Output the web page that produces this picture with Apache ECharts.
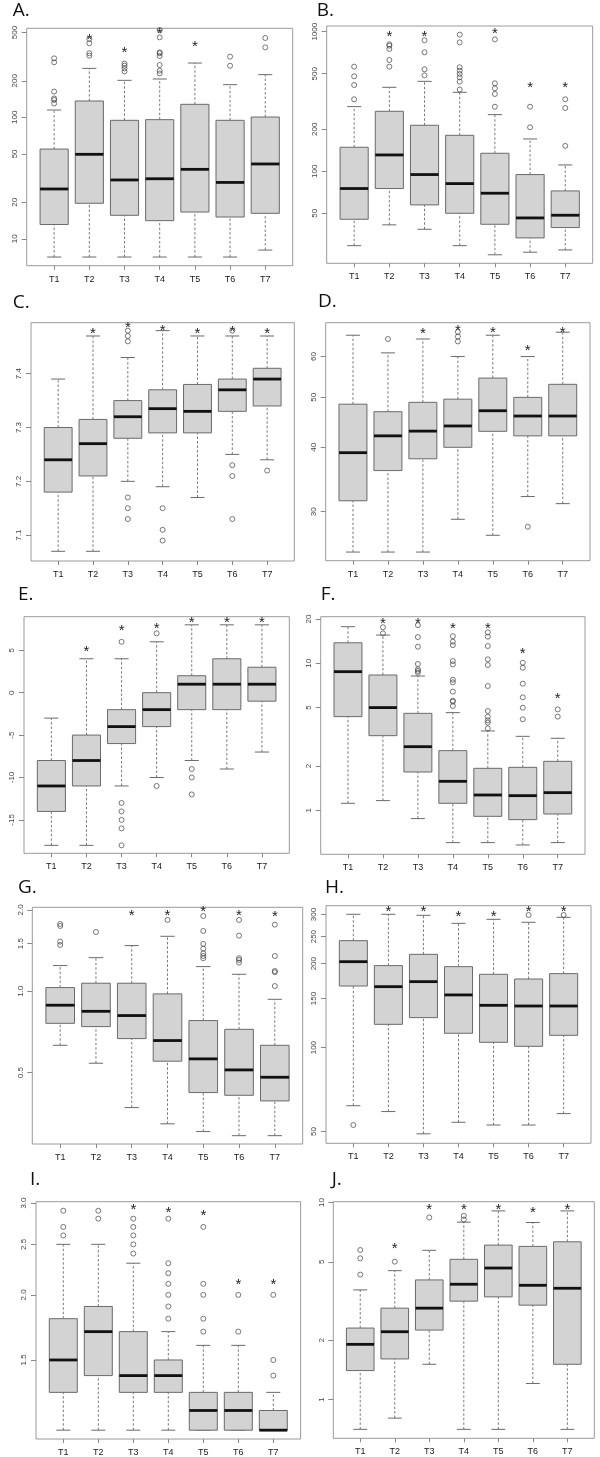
<!DOCTYPE html>
<html>
<head>
<meta charset="utf-8">
<script src="https://cdn.jsdelivr.net/npm/echarts@6/dist/echarts.min.js"></script>
<style>
  html, body { margin: 0; padding: 0; background: #fff; }
  #chart { width: 600px; height: 1457px; }
</style>
</head>
<body>
<div id="chart"></div>
<script>
var categories = ['T1', 'T2', 'T3', 'T4', 'T5', 'T6', 'T7'];

// box stats per group: [lower whisker, Q1, median, Q3, upper whisker]
// A
var aStats = [[7.07, 13.1, 25.7, 54.8, 114.9], [7.07, 19.6, 49.6, 136.3, 253], [7.07, 15.6, 30.5, 94.5, 201.7], [7.07, 14.1, 31.2, 95.7, 206.9], [7.07, 16.6, 37.3, 128, 280], [7.07, 15.1, 29.1, 94.5, 185.8], [8.07, 16.2, 41.3, 100.6, 224.6]];
var aOutliers = [[130, 139, 143, 163, 284, 306], [322, 337, 407, 442], [239, 253, 266, 277], [230, 242, 270, 320, 337, 343, 456, 524], [], [266, 316], [377, 450]];
var aStars = [null, 456, 358, 517, 399, null, null];
var aTicks = ['10', '20', '50', '100', '200', '500'];

// B
var bStats = [[29.3, 45.3, 75.2, 148.6, 290.6], [41.3, 75.2, 130.9, 269, 399.6], [38.4, 57.4, 94.7, 213.6, 441], [29.3, 50, 81.6, 181, 368], [25.2, 41.7, 69.6, 134.6, 254.6], [26.3, 33.3, 46.3, 94.7, 170.4], [27.3, 39.5, 48.4, 72.3, 111]];
var bOutliers = [[328, 415, 479, 562], [562, 627, 752, 794, 812], [487, 538, 712, 868], [385, 439, 471, 498, 526, 556, 839, 953], [290, 358, 393, 427, 882], [206.6, 290], [152, 284, 328]];
var bStars = [null, 963, 963, null, 1018, 415, 415];
var bTicks = ['50', '100', '200', '500', '1000'];

// C
var cStats = [[7.07, 7.18, 7.24, 7.30, 7.39], [7.07, 7.21, 7.27, 7.315, 7.47], [7.20, 7.28, 7.32, 7.35, 7.43], [7.19, 7.29, 7.335, 7.37, 7.48], [7.17, 7.29, 7.33, 7.38, 7.47], [7.25, 7.33, 7.37, 7.39, 7.47], [7.24, 7.34, 7.39, 7.41, 7.47]];
var cOutliers = [[], [], [7.13, 7.15, 7.17, 7.46, 7.47, 7.48], [7.09, 7.11, 7.15], [], [7.13, 7.21, 7.23, 7.48], [7.22]];
var cStars = [null, 7.48, 7.49, 7.485, 7.48, 7.483, 7.48];
var cTicks = ['7.1', '7.2', '7.3', '7.4'];

// D
var dStats = [[25.05, 31.5, 39.05, 48.5, 66.0], [25.05, 36.05, 42.1, 46.9, 61.0], [25.05, 38.0, 43.0, 48.9, 64.9], [29.0, 40.0, 44.0, 49.6, 60.0], [27.0, 42.96, 47.1, 54.5, 66.0], [32.1, 42.1, 46.0, 50.0, 60.0], [31.1, 42.1, 46.0, 53.0, 66.9]];
var dOutliers = [[], [64.9], [], [64.2, 65.6, 67.0], [], [28.05], []];
var dStars = [null, null, 67.3, 68.1, 67.6, 62.5, 67.6];
var dTicks = ['30', '40', '50', '60'];

// E
var eStats = [[-18, -14, -11, -8, -3], [-18, -11, -8, -5, 4], [-11, -6, -4, -2, 4], [-10, -4, -2, 0, 6], [-8, -2, 1, 2, 8], [-9, -2, 1, 4, 8], [-7, -1, 1, 3, 8]];
var eOutliers = [[], [], [-18, -16, -15, -14, -13, 6], [-11, 7], [-12, -10, -9], [], []];
var eStars = [null, 5.2, 7.6, 7.9, 8.6, 8.6, 8.6];
var eTicks = ['-15', '-10', '-5', '0', '5'];

// F
var fStats = [[1.116, 4.34, 8.78, 13.8, 17.76], [1.164, 3.22, 5.0, 8.33, 15.58], [0.878, 1.823, 2.71, 4.57, 8.2], [0.603, 1.116, 1.575, 2.546, 4.62], [0.603, 0.91, 1.271, 1.931, 3.465], [0.581, 0.864, 1.258, 1.961, 3.187], [0.603, 0.944, 1.319, 2.154, 3.09]];
var fOutliers = [[], [16.0, 17.6], [8.64, 8.87, 9.1, 9.9, 12.98, 15.1, 18.2], [5.13, 5.49, 5.57, 6.42, 7.43, 7.74, 9.84, 10.37, 13.3, 14.04, 15.3], [3.61, 3.95, 4.09, 4.34, 4.74, 7.01, 9.74, 10.65, 13.12, 15.18, 16.25], [4.16, 4.99, 5.87, 7.27, 9.34, 10.1], [4.34, 4.86]];
var fStars = [null, 19.6, 19.6, 18.0, 18.0, 12.13, 6.03];
var fTicks = ['1', '2', '5', '10', '20'];

// G
var gStats = [[0.631, 0.761, 0.888, 1.032, 1.245], [0.5415, 0.740, 0.843, 1.071, 1.332], [0.371, 0.668, 0.813, 1.071, 1.476], [0.323, 0.551, 0.657, 0.978, 1.598], [0.3024, 0.4217, 0.562, 0.779, 1.234], [0.292, 0.412, 0.5115, 0.723, 1.156], [0.292, 0.3927, 0.4805, 0.631, 0.934]];
var gOutliers = [[1.484, 1.527, 1.745, 1.775], [1.658], [], [1.837], [1.325, 1.351, 1.382, 1.438, 1.497, 1.672, 1.900], [1.277, 1.306, 1.325, 1.607, 1.837], [1.046, 1.176, 1.189, 1.351, 1.765]];
var gStars = [null, null, 1.955, 1.955, 2.017, 1.955, 1.928];
var gTicks = ['0.5', '1.0', '1.5', '2.0'];

// H
var hStats = [[61.9, 166.3, 203.3, 241.8, 300.6], [59.0, 121.2, 165.4, 196.8, 300.6], [49.1, 128.1, 172.4, 216.0, 298.1], [54.0, 112.6, 154.5, 195.1, 279], [52.8, 104.5, 141.8, 183.2, 288.4], [52.8, 101.1, 141.0, 176.2, 281.4], [58.0, 110.7, 141.0, 184.2, 293.2]];
var hOutliers = [[52.8], [], [], [], [], [298.9], [298.9]];
var hStars = [null, 314, 314, 300.6, 300.6, 314, 314];
var hTicks = ['50', '100', '150', '200', '250', '300'];

// I
var iStats = [[1.1, 1.3, 1.5, 1.8, 2.5], [1.1, 1.4, 1.7, 1.9, 2.5], [1.1, 1.3, 1.4, 1.7, 2.3], [1.1, 1.3, 1.4, 1.5, 1.7], [1.1, 1.1, 1.2, 1.3, 1.6], [1.1, 1.1, 1.2, 1.3, 1.6], [1.1, 1.1, 1.1, 1.2, 1.3]];
var iOutliers = [[2.6, 2.7, 2.9], [2.8, 2.9], [2.4, 2.5, 2.6, 2.7, 2.8], [1.8, 1.9, 2.0, 2.1, 2.2, 2.3, 2.8], [1.7, 1.8, 2.0, 2.1, 2.7], [1.7, 2.0], [1.4, 1.5, 2.0]];
var iStars = [null, null, 2.95, 2.91, 2.87, 2.12, 2.12];
var iTicks = ['1.5', '2.0', '2.5', '3.0'];

// J
var jStats = [[0.705, 1.402, 1.905, 2.305, 3.601], [0.804, 1.606, 2.208, 2.909, 4.51], [1.509, 2.251, 2.909, 4.046, 5.72], [0.705, 3.157, 3.847, 5.15, 7.95], [0.705, 3.32, 4.65, 6.08, 9.07], [1.205, 3.012, 3.80, 5.99, 7.92], [0.705, 1.509, 3.67, 6.32, 9.07]];
var jOutliers = [[4.306, 5.21, 5.74], [5.01], [8.4], [8.2, 8.56], [], [], []];
var jStars = [null, 6.04, 9.51, 9.51, 9.51, 9.15, 9.51];
var jTicks = ['1', '2', '5', '10'];

// layout: grid box [left, top, width, height], y range, scale, panel letter position
var layout = [
  { key: 'A', box: [26.7, 28.3, 266, 237.4], y: [6.0, 541], log: true, tag: [12.7, 11.5] },
  { key: 'B', box: [326.7, 26, 266, 237.3], y: [21.9, 1099], log: true, tag: [316.7, 11.5] },
  { key: 'C', box: [31, 322.7, 263.3, 238.3], y: [7.052, 7.4947], log: false, tag: [12.7, 303] },
  { key: 'D', box: [325.7, 322.7, 264.3, 238], y: [24.1, 69.8], log: true, tag: [318, 302] },
  { key: 'E', box: [24, 616.7, 265.3, 236.6], y: [-18.94, 8.96], log: false, tag: [18, 595] },
  { key: 'F', box: [320.7, 616.7, 264.3, 237.6], y: [0.502, 20.77], log: true, tag: [320.7, 595] },
  { key: 'G', box: [32.3, 907.3, 270.4, 236.7], y: [0.272, 2.046], log: true, tag: [18, 888.3] },
  { key: 'H', box: [326, 905.7, 265, 237.6], y: [45.4, 322.7], log: true, tag: [325, 888.3] },
  { key: 'I', box: [36, 1201.7, 264.6, 237.6], y: [1.058, 3.018], log: true, tag: [30, 1180] },
  { key: 'J', box: [333.3, 1201.7, 261, 236.6], y: [0.635, 10.1], log: true, tag: [331.7, 1180] }
];

var panelData = {
  A: [aStats, aOutliers, aStars, aTicks],
  B: [bStats, bOutliers, bStars, bTicks],
  C: [cStats, cOutliers, cStars, cTicks],
  D: [dStats, dOutliers, dStars, dTicks],
  E: [eStats, eOutliers, eStars, eTicks],
  F: [fStats, fOutliers, fStars, fTicks],
  G: [gStats, gOutliers, gStars, gTicks],
  H: [hStats, hOutliers, hStars, hTicks],
  I: [iStats, iOutliers, iStars, iTicks],
  J: [jStats, jOutliers, jStars, jTicks]
};

var FONT = '"Liberation Sans", Arial, sans-serif';

function renderBox(params, api) {
  var x = api.value(0);
  var md = api.value(3);
  var pLo = api.coord([x, api.value(1)]);
  var pQ1 = api.coord([x, api.value(2)]);
  var pMd = api.coord([x, md]);
  var pQ3 = api.coord([x, api.value(4)]);
  var pHi = api.coord([x, api.value(5)]);
  var xl = api.coord([x - 0.4, md])[0];
  var xr = api.coord([x + 0.4, md])[0];
  var cl = api.coord([x - 0.2, md])[0];
  var cr = api.coord([x + 0.2, md])[0];
  var cx = pMd[0];
  var dash = { stroke: '#7a7a7a', lineWidth: 1, lineDash: [2.5, 2] };
  var solid = { stroke: '#6a6a6a', lineWidth: 1 };
  return {
    type: 'group',
    children: [
      { type: 'line', shape: { x1: cx, y1: pQ3[1], x2: cx, y2: pHi[1] }, style: dash },
      { type: 'line', shape: { x1: cx, y1: pLo[1], x2: cx, y2: pQ1[1] }, style: dash },
      { type: 'line', shape: { x1: cl, y1: pHi[1], x2: cr, y2: pHi[1] }, style: solid },
      { type: 'line', shape: { x1: cl, y1: pLo[1], x2: cr, y2: pLo[1] }, style: solid },
      { type: 'rect', shape: { x: xl, y: pQ3[1], width: xr - xl, height: pQ1[1] - pQ3[1] },
        style: { fill: '#d3d3d3', stroke: '#6a6a6a', lineWidth: 1 } },
      { type: 'line', shape: { x1: xl, y1: pMd[1], x2: xr, y2: pMd[1] }, style: { stroke: '#111', lineWidth: 2.8 } }
    ]
  };
}

function renderStar(params, api) {
  var p = api.coord([api.value(0), api.value(1)]);
  return {
    type: 'text',
    x: p[0],
    y: p[1] + 3,
    style: { text: '*', fill: '#222', font: '15px ' + FONT, align: 'center', verticalAlign: 'middle' }
  };
}

function tickLabel(ticks) {
  return function (v) {
    for (var k = 0; k < ticks.length; k++) {
      var t = Number(ticks[k]);
      if (Math.abs(t - v) <= 1e-6 * Math.max(1, Math.abs(t))) return ticks[k];
    }
    return '';
  };
}

var grids = [], xAxes = [], yAxes = [], series = [], graphics = [];
var xPos = categories.map(function (c, k) { return k + 1; });

layout.forEach(function (L, i) {
  var d = panelData[L.key];
  var stats = d[0], outliers = d[1], stars = d[2], ticks = d[3];
  var tickNums = ticks.map(Number);

  grids.push({
    left: L.box[0], top: L.box[1], width: L.box[2], height: L.box[3],
    show: true, borderColor: '#9a9a9a', borderWidth: 1, backgroundColor: 'transparent'
  });

  xAxes.push({
    gridIndex: i, type: 'value', min: 0.22, max: 7.78, position: 'bottom',
    axisLine: { show: false, onZero: false }, splitLine: { show: false },
    axisTick: { show: true, customValues: xPos, length: 4, inside: false, lineStyle: { color: '#888' } },
    axisLabel: {
      customValues: xPos, margin: 9, color: '#1a1a1a', fontSize: 9, fontFamily: FONT,
      formatter: function (v) { return categories[Math.round(v) - 1]; }
    }
  });

  yAxes.push({
    gridIndex: i, type: L.log ? 'log' : 'value', logBase: 10, min: L.y[0], max: L.y[1], position: 'left',
    axisLine: { show: false, onZero: false }, splitLine: { show: false },
    axisTick: { show: true, customValues: tickNums, length: 5, inside: false, lineStyle: { color: '#888' } },
    axisLabel: {
      customValues: tickNums, rotate: 90, margin: 8, color: '#444', fontSize: 8, fontFamily: FONT,
      formatter: tickLabel(ticks)
    }
  });

  series.push({
    type: 'custom', xAxisIndex: i, yAxisIndex: i, renderItem: renderBox, silent: true,
    encode: { x: 0, y: [1, 2, 3, 4, 5] },
    data: stats.map(function (s, k) { return [k + 1].concat(s); })
  });

  var outData = [];
  outliers.forEach(function (vals, k) {
    vals.forEach(function (v) { outData.push([k + 1, v]); });
  });
  series.push({
    type: 'scatter', xAxisIndex: i, yAxisIndex: i, silent: true,
    symbol: 'circle', symbolSize: 5,
    itemStyle: { color: 'rgba(0,0,0,0)', borderColor: '#444', borderWidth: 0.9 },
    data: outData
  });

  var starData = [];
  stars.forEach(function (v, k) { if (v != null) starData.push([k + 1, v]); });
  series.push({
    type: 'custom', xAxisIndex: i, yAxisIndex: i, renderItem: renderStar, silent: true, clip: false,
    encode: { x: 0, y: 1 },
    data: starData
  });

  graphics.push({
    type: 'text', left: L.tag[0], top: L.tag[1] - 10,
    style: { text: L.key + '.', fill: '#111', font: '19px "Open Sans", sans-serif' }
  });
});

var chart = echarts.init(document.getElementById('chart'), null, { renderer: 'canvas' });
chart.setOption({
  animation: false,
  backgroundColor: '#fff',
  grid: grids,
  xAxis: xAxes,
  yAxis: yAxes,
  series: series,
  graphic: graphics
});
</script>
</body>
</html>
